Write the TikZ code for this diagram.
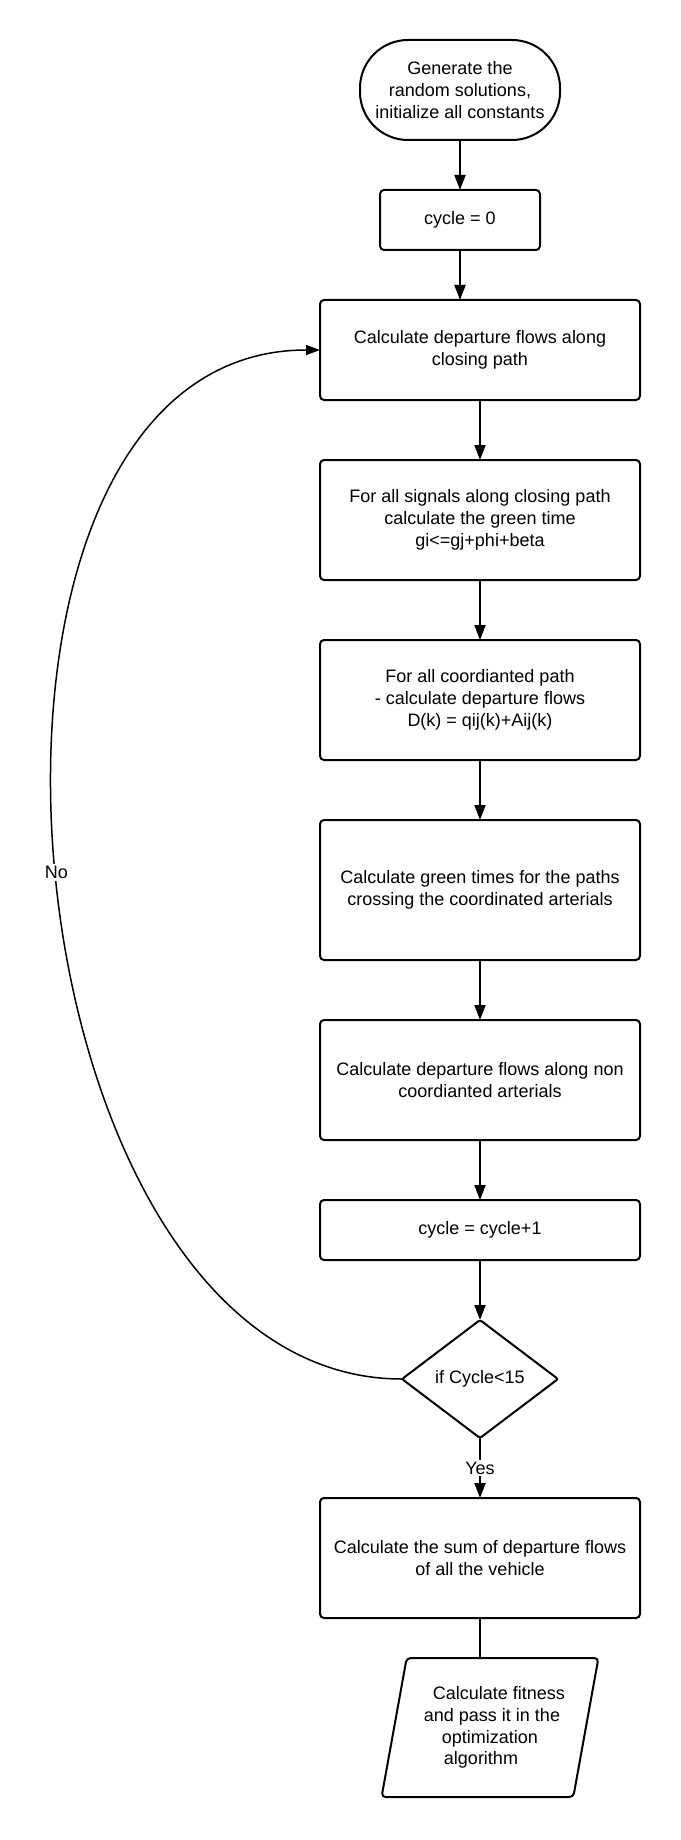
\documentclass[tikz,border=0pt]{standalone}
\usepackage{fontspec}
\setmainfont{Liberation Sans}
\usepackage{tikz}
\usetikzlibrary{positioning, shapes.geometric, arrows.meta}
\tikzstyle{startstop} = [rectangle, rounded corners=24pt, minimum width=100pt, minimum height=50pt, text centered, align=center, draw=black, line width=1pt, outer sep=0pt]
\tikzstyle{process} = [rectangle, rounded corners=2pt, minimum width=160pt, minimum height=60pt, text centered, align=center, draw=black, line width=1pt, outer sep=0pt]
\tikzstyle{decision} = [diamond, aspect=1.32, inner sep=0pt, minimum width=78pt, minimum height=59pt, text centered, draw=black, line width=1pt, rounded corners=1pt, outer sep=0pt]
\tikzstyle{io} = [trapezium, trapezium left angle=75.5, trapezium right angle=104.5, trapezium stretches=true, minimum width=108.5pt, minimum height=69.5pt, align=center, draw=black, line width=1pt, rounded corners=2pt, outer sep=0pt]
\tikzstyle{arrow} = [line width=1pt, -{Triangle[length=7.5pt, width=5.5pt]}]
\tikzstyle{loopline} = [line width=0.75pt, -{Triangle[length=7pt, width=5pt]}]
\tikzstyle{lbl} = [fill=white, inner sep=1pt]
\tikzstyle{every node}=[font=\fontsize{9}{10.85}\selectfont]

\begin{document}
\begin{tikzpicture}[node distance=30pt]
		\useasboundingbox (0,0) rectangle (340pt,-920pt);
		%flowchart shapes
		\node (start) [startstop] at (230pt,-45pt) {Generate the\\random solutions,\\initialize all constants};
		\node (cyc0) [process, below=25pt of start, minimum width=80pt, minimum height=30pt] {cycle = 0};
		\node (pro1) [process, below=25pt of cyc0, xshift=10pt, minimum height=50pt] {Calculate departure flows along\\closing path};
		\node (pro2) [process, below=of pro1] {For all signals along closing path\\calculate the green time\\gi<=gj+phi+beta};
		\node (pro3) [process, below=of pro2] {For all coordianted path\\- calculate departure flows\\D(k) = qij(k)+Aij(k)};
		\node (pro4) [process, below=of pro3, minimum height=70pt] {Calculate green times for the paths\\crossing the coordinated arterials};
		\node (pro5) [process, below=of pro4] {Calculate departure flows along non\\coordianted arterials};
		\node (cyc1) [process, below=of pro5, minimum height=30pt] {cycle = cycle+1};
		\node (dec1) [decision, below=of cyc1] {if Cycle<15};
		\node (pro6) [process, below=of dec1] {Calculate the sum of departure flows\\of all the vehicle};
		\node (out1) [io, below=20pt of pro6, xshift=5pt] {\hspace*{9pt}Calculate fitness\\\hspace*{2pt}and pass it in the\\optimization\hspace*{3pt}\\algorithm\hspace*{9pt}};

		%connectors
		\draw [arrow](start) -- (cyc0);
		\draw [arrow](cyc0.south) -- (cyc0.south |- pro1.north);
		\draw [arrow](pro1) -- (pro2);
		\draw [arrow](pro2) -- (pro3);
		\draw [arrow](pro3) -- (pro4);
		\draw [arrow](pro4) -- (pro5);
		\draw [arrow](pro5) -- (cyc1);
		\draw [arrow](cyc1) -- (dec1);
		\draw [arrow](dec1) -- node[lbl]{Yes} (pro6);
		\draw [line width=1pt](pro6.south) -- (pro6.south |- out1.north);
		\draw [loopline](dec1.west) to[out=180, in=180, looseness=1.01] node[lbl, pos=0.495]{No} (pro1.west);
	\end{tikzpicture}
\end{document}
